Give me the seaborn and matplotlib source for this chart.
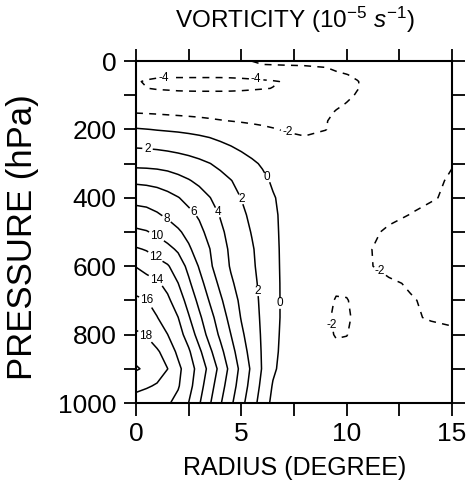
import numpy as np
import matplotlib
matplotlib.use("Agg")
import matplotlib.pyplot as plt
import seaborn as sns

# Radial grid (degrees): fine spacing across the vortex core, coarser outside
radius_inner = [0, 0.5, 1, 1.5, 2, 2.5, 3, 3.5, 4, 4.5, 5, 5.5, 6, 6.5, 7]
radius_outer = [8, 9, 9.5, 10, 10.5, 11, 12, 13, 14, 15]

# Pressure levels (hPa)
pressure = [0, 20, 40, 60, 80, 100, 125, 150, 175, 200, 250, 300, 350, 400,
            450, 500, 550, 600, 650, 700, 750, 800, 850, 900, 950, 1000]

# Azimuthal-mean relative vorticity (1e-5 s^-1), one row per pressure level
vort_inner = [
    [-2.7, -2.7, -2.7, -2.65, -2.6, -2.55, -2.5, -2.4, -2.3, -2.2, -2.1, -1.98, -1.5, -1.45, -1.4],
    [-3.1, -3.2, -3.25, -3.3, -3.3, -3.3, -3.3, -3.25, -3.2, -3.1, -2.95, -2.8, -2.5, -2.45, -2.4],
    [-3.5, -3.7, -3.75, -3.78, -3.78, -3.78, -3.78, -3.78, -3.78, -3.76, -3.72, -3.65, -3.55, -3.45, -3.3],
    [-3.9, -4.1, -4.25, -4.3, -4.3, -4.3, -4.3, -4.3, -4.3, -4.28, -4.25, -4.2, -4.15, -4.08, -3.95],
    [-3.8, -3.98, -4.08, -4.12, -4.17, -4.2, -4.22, -4.22, -4.22, -4.2, -4.18, -4.12, -4.06, -3.98, -3.85],
    [-3.3, -3.5, -3.6, -3.65, -3.7, -3.7, -3.7, -3.7, -3.7, -3.7, -3.65, -3.6, -3.5, -3.4, -3.3],
    [-2.7, -2.8, -2.9, -3.0, -3.05, -3.1, -3.15, -3.2, -3.2, -3.2, -3.2, -3.2, -3.15, -3.1, -3.0],
    [-2.1, -2.15, -2.2, -2.25, -2.3, -2.35, -2.4, -2.5, -2.6, -2.7, -2.8, -2.85, -2.9, -2.9, -2.85],
    [-1.0, -1.1, -1.25, -1.4, -1.5, -1.6, -1.7, -1.8, -1.92, -2.03, -2.15, -2.25, -2.35, -2.45, -2.5],
    [0.15, 0.04, -0.08, -0.17, -0.25, -0.35, -0.45, -0.55, -0.75, -1.0, -1.25, -1.5, -1.7, -1.9, -2.08],
    [1.86, 1.8, 1.7, 1.55, 1.35, 1.12, 0.87, 0.6, 0.32, 0.04, -0.3, -0.62, -0.92, -1.2, -1.42],
    [3.46, 3.43, 3.36, 3.24, 3.05, 2.78, 2.43, 2.04, 1.6, 1.15, 0.7, 0.26, -0.17, -0.55, -0.9],
    [5.65, 5.55, 5.35, 5.0, 4.55, 4.12, 3.63, 3.12, 2.6, 2.06, 1.5, 0.93, 0.36, -0.2, -0.6],
    [7.34, 7.22, 7.0, 6.6, 6.08, 5.45, 4.75, 4.05, 3.35, 2.65, 1.96, 1.32, 0.72, 0.12, -0.35],
    [8.83, 8.65, 8.2, 7.68, 7.07, 6.46, 5.78, 4.83, 3.9, 3.12, 2.35, 1.63, 0.95, 0.27, -0.3],
    [10.34, 10.12, 9.63, 8.95, 8.27, 7.43, 6.48, 5.44, 4.33, 3.46, 2.68, 1.91, 1.13, 0.35, -0.3],
    [12.2, 11.85, 11.19, 10.53, 9.71, 8.29, 7.11, 6.03, 4.75, 3.69, 2.93, 2.17, 1.32, 0.44, -0.3],
    [13.93, 13.35, 12.76, 12.18, 11.03, 9.5, 7.85, 6.31, 5.03, 3.84, 3.06, 2.28, 1.41, 0.5, -0.3],
    [15.17, 14.72, 14.27, 13.43, 12.02, 10.33, 8.67, 7.08, 5.6, 4.27, 3.32, 2.46, 1.55, 0.58, -0.3],
    [16.31, 16.05, 15.27, 14.36, 13.03, 11.27, 9.5, 7.85, 6.31, 4.86, 3.61, 2.63, 1.63, 0.61, -0.3],
    [17.28, 16.67, 16.06, 15.05, 14.02, 12.18, 10.36, 8.67, 7.03, 5.38, 3.89, 2.79, 1.7, 0.61, -0.3],
    [18.25, 17.9, 16.95, 16.02, 14.75, 13.2, 11.2, 9.33, 7.67, 6.02, 4.33, 3.03, 1.76, 0.59, -0.4],
    [19.23, 18.74, 18.25, 17.17, 15.6, 14.27, 12.4, 10.4, 8.55, 6.73, 4.91, 3.26, 1.82, 0.52, -0.5],
    [20.2, 19.67, 18.83, 18.02, 16.46, 14.92, 13.27, 11.4, 9.4, 7.4, 5.45, 3.64, 1.85, 0.31, -0.6],
    [18.43, 18.19, 17.83, 17.03, 16.17, 14.67, 12.8, 10.8, 8.8, 6.91, 5.09, 3.27, 1.5, -0.15, -0.75],
    [17.3, 16.94, 16.58, 16.22, 15.43, 13.98, 12.18, 10.2, 8.2, 6.36, 4.55, 2.83, 1.09, -0.5, -0.9],
]
vort_outer = [
    [-1.35, -1.3, -1.3, -1.28, -1.25, -1.2, -1.1, -1.0, -0.95, -0.9],
    [-2.3, -2.05, -1.75, -1.6, -1.5, -1.4, -1.2, -1.05, -1.0, -0.95],
    [-2.95, -2.5, -2.25, -2.03, -1.8, -1.6, -1.3, -1.15, -1.05, -1.0],
    [-3.6, -3.1, -2.8, -2.45, -2.05, -1.7, -1.35, -1.2, -1.1, -1.0],
    [-3.5, -3.0, -2.7, -2.4, -2.05, -1.75, -1.4, -1.25, -1.1, -1.0],
    [-3.0, -2.7, -2.5, -2.25, -1.9, -1.7, -1.4, -1.25, -1.1, -1.0],
    [-2.8, -2.5, -2.25, -1.95, -1.7, -1.5, -1.3, -1.2, -1.1, -1.0],
    [-2.7, -2.3, -1.9, -1.7, -1.55, -1.45, -1.3, -1.2, -1.1, -1.0],
    [-2.5, -2.05, -1.8, -1.6, -1.5, -1.4, -1.3, -1.2, -1.1, -1.0],
    [-2.25, -2.02, -1.8, -1.6, -1.5, -1.4, -1.3, -1.2, -1.1, -1.0],
    [-1.6, -1.6, -1.55, -1.5, -1.45, -1.4, -1.35, -1.35, -1.4, -1.45],
    [-1.3, -1.35, -1.35, -1.35, -1.4, -1.45, -1.55, -1.7, -1.85, -1.98],
    [-1.2, -1.3, -1.35, -1.4, -1.45, -1.5, -1.62, -1.78, -1.91, -2.05],
    [-1.15, -1.3, -1.35, -1.4, -1.45, -1.5, -1.7, -1.85, -1.95, -2.1],
    [-1.1, -1.3, -1.4, -1.45, -1.55, -1.7, -1.85, -2.01, -2.15, -2.2],
    [-1.1, -1.35, -1.5, -1.6, -1.75, -1.85, -2.1, -2.2, -2.25, -2.25],
    [-1.1, -1.4, -1.55, -1.65, -1.8, -1.95, -2.2, -2.3, -2.3, -2.3],
    [-1.1, -1.5, -1.7, -1.75, -1.85, -1.95, -2.15, -2.3, -2.3, -2.3],
    [-1.15, -1.7, -1.85, -1.85, -1.8, -1.8, -1.92, -2.05, -2.2, -2.25],
    [-1.2, -1.8, -2.05, -2.03, -1.85, -1.8, -1.85, -1.96, -2.08, -2.2],
    [-1.2, -1.85, -2.15, -2.1, -1.85, -1.8, -1.85, -1.94, -2.04, -2.1],
    [-1.2, -1.8, -2.06, -2.02, -1.8, -1.7, -1.75, -1.8, -1.85, -1.9],
    [-1.2, -1.6, -1.8, -1.8, -1.6, -1.5, -1.55, -1.6, -1.65, -1.7],
    [-1.1, -1.4, -1.5, -1.5, -1.45, -1.4, -1.4, -1.45, -1.5, -1.5],
    [-1.2, -1.3, -1.4, -1.4, -1.4, -1.4, -1.4, -1.4, -1.4, -1.4],
    [-1.2, -1.3, -1.3, -1.3, -1.3, -1.3, -1.3, -1.3, -1.4, -1.4],
]

contour_levels = [-4, -2, 0, 2, 4, 6, 8, 10, 12, 14, 16, 18, 20]

# Where each contour carries its value label (radius, pressure)
label_spots = [
    (1.3, 50), (5.7, 56), (7.2, 208), (11.5, 622), (9.6, 768),
    (6.25, 340), (6.8, 709), (0.55, 255), (5.0, 404), (5.8, 672),
    (3.9, 442), (2.8, 437), (1.5, 457), (1.05, 504), (1.05, 560),
    (1.05, 630), (0.55, 698), (0.55, 795),
]

sns.set_theme(style="ticks")
plt.rcParams["font.family"] = ["Liberation Sans", "DejaVu Sans"]
plt.rcParams["mathtext.fontset"] = "custom"
plt.rcParams["mathtext.rm"] = "Liberation Sans"
plt.rcParams["mathtext.it"] = "Liberation Sans:italic"
plt.rcParams["lines.scale_dashes"] = False
plt.rcParams["lines.dashed_pattern"] = [5.0, 4.5]

radius = np.array(radius_inner + radius_outer)
p_levels = np.array(pressure)
vort = np.hstack([np.array(vort_inner), np.array(vort_outer)])

fig = plt.figure(figsize=(4.76, 4.83), dpi=100, facecolor="white")
ax = fig.add_axes([0.2857, 0.1656, 0.6639, 0.7081])
ax.set_facecolor("white")

styles = ["dashed" if lv < 0 else "solid" for lv in contour_levels]
cs = ax.contour(radius, p_levels, vort, levels=contour_levels,
                colors="black", linewidths=1.1, linestyles=styles)
labels = ax.clabel(cs, manual=label_spots, fmt="%d", fontsize=8.5,
                   inline=True, inline_spacing=2)
for lab in labels:
    lab.set_rotation(0)

ax.set_xlim(0, 15)
ax.set_ylim(1000, 0)
ax.set_xticks([0, 5, 10, 15])
ax.set_xticks([2.5, 7.5, 12.5], minor=True)
ax.set_yticks(range(0, 1001, 200))
ax.set_yticks(range(100, 1000, 200), minor=True)
ax.tick_params(which="both", direction="out", top=True, right=True,
               length=9, width=1.3, color="black", labelsize=19,
               labelcolor="black", pad=5)
for side in ax.spines.values():
    side.set_linewidth(1.5)
    side.set_color("black")

fig.text(0.62, 0.031, "RADIUS (DEGREE)", fontsize=18, color="black",
         ha="center", va="center")
fig.text(0.048, 0.51, "PRESSURE (hPa)", fontsize=25, color="black",
         ha="center", va="center", rotation=90)
fig.text(0.62, 0.958, r"VORTICITY (10$^{-5}$ $s^{-1}$)", fontsize=17.5,
         ha="center", va="center", color="black")

fig.savefig("out.png", dpi=100, facecolor="white")
